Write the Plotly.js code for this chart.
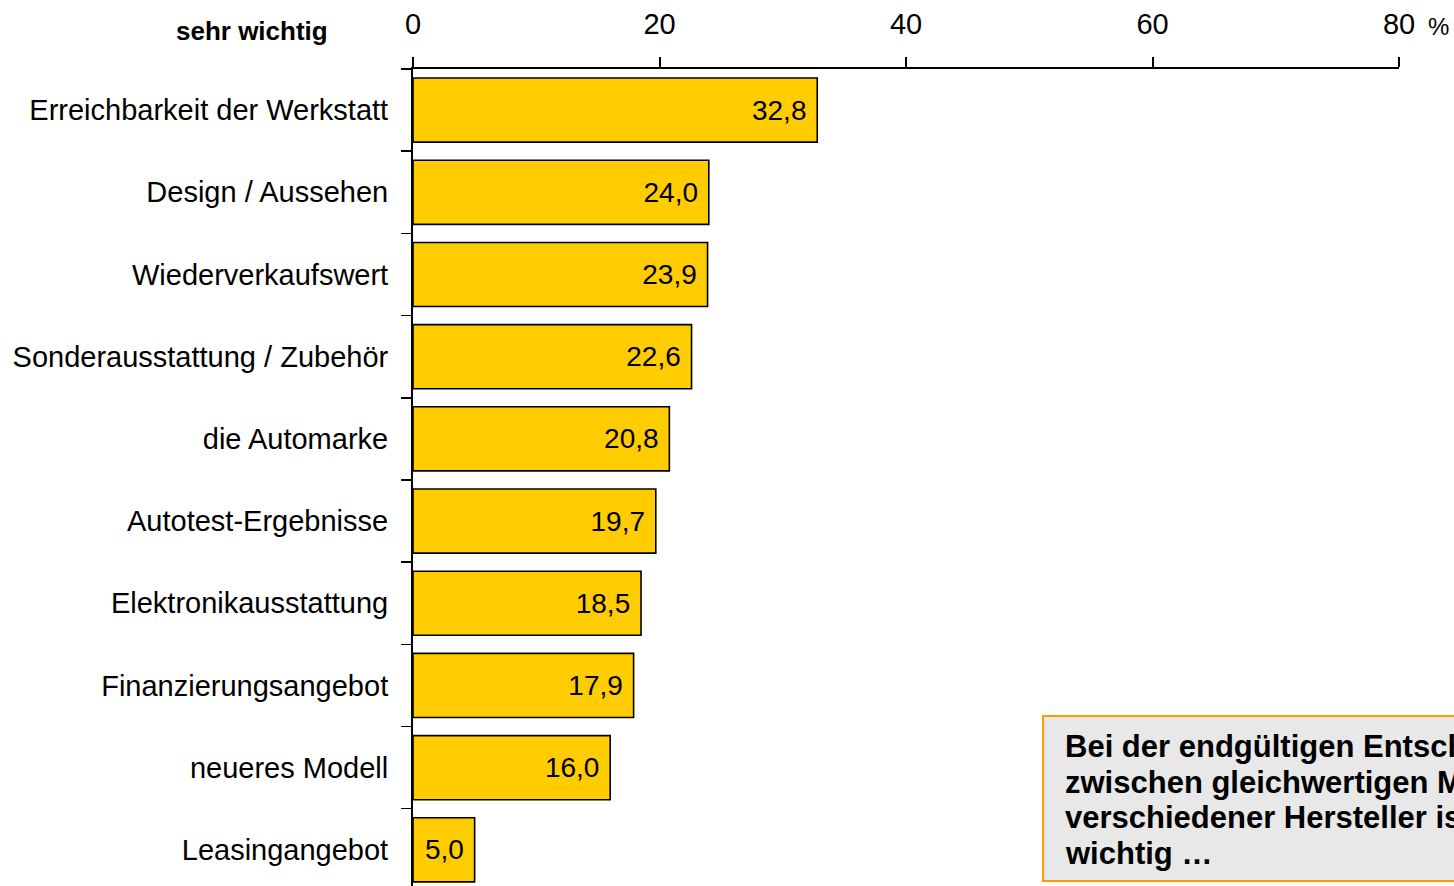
<!DOCTYPE html>
<html>
<head>
<meta charset="utf-8">
<script src="https://cdn.plot.ly/plotly-3.0.1.min.js"></script>
<style>
html,body{margin:0;padding:0;overflow:hidden;background:#fff;}
#chart{width:1454px;height:886px;}
</style>
</head>
<body>
<div id="chart"></div>
<script>
const categories = [
  "Erreichbarkeit der Werkstatt",
  "Design / Aussehen",
  "Wiederverkaufswert",
  "Sonderausstattung / Zubehör",
  "die Automarke",
  "Autotest-Ergebnisse",
  "Elektronikausstattung",
  "Finanzierungsangebot",
  "neueres Modell",
  "Leasingangebot"
];
const values = [32.8, 24.0, 23.9, 22.6, 20.8, 19.7, 18.5, 17.9, 16.0, 5.0];
const tickVals = [0, 20, 40, 60, 80];
const tickLabels = ["0", "20", "40", "60", "80"];
const groupLabel = "sehr wichtig";
const unitLabel = "%";
const noteLines = [
  "Bei der endgültigen Entscheidung",
  "zwischen gleichwertigen Modellen",
  "verschiedener Hersteller ist mir sehr",
  "wichtig …"
];

const FONT = '"Liberation Sans", Arial, sans-serif';

const trace = {
  type: 'bar',
  orientation: 'h',
  y: categories,
  x: values,
  marker: {color: '#FFCC00', line: {color: '#000000', width: 1.6}},
  texttemplate: '%{x:.1f}\u00a0',
  textposition: 'inside',
  insidetextanchor: 'end',
  textfont: {family: FONT, size: 28, color: '#000000'},
  constraintext: 'none',
  hoverinfo: 'none',
  cliponaxis: false
};

// pixel -> paper helpers (plot area: x 413..1399, y 69..886)
const px = v => (v - 413) / 986;
const py = v => (886 - v) / 817;

const noteAnnotations = noteLines.map((t, i) => ({
  xref: 'paper', yref: 'paper',
  x: px(1063), y: py([746, 782, 817, 853][i]),
  xanchor: 'left', yanchor: 'middle',
  align: 'left',
  text: '<b>' + t + '</b>',
  showarrow: false,
  font: {family: FONT, size: 31, color: '#000'}
}));

const layout = {
  width: 1454,
  height: 886,
  margin: {l: 413, r: 55, t: 69, b: 0, pad: 0},
  paper_bgcolor: '#ffffff',
  plot_bgcolor: '#ffffff',
  separators: ',.',
  showlegend: false,
  bargap: 0.22,
  font: {family: FONT, color: '#000000'},
  xaxis: {
    side: 'top',
    range: [0, 80],
    autorange: false,
    tickmode: 'array',
    tickvals: tickVals,
    ticktext: tickLabels,
    ticks: 'outside',
    ticklen: 10,
    tickwidth: 2,
    tickcolor: '#000',
    ticklabelstandoff: 11,
    showline: true,
    linecolor: '#000',
    linewidth: 2,
    showgrid: false,
    zeroline: false,
    tickfont: {family: FONT, size: 29, color: '#000'}
  },
  yaxis: {
    type: 'category',
    autorange: false,
    range: [9.44, -0.5],
    tickson: 'boundaries',
    ticks: 'outside',
    ticklen: 10,
    tickwidth: 1.5,
    tickcolor: '#000',
    ticklabelstandoff: 17,
    showline: true,
    linecolor: '#000',
    linewidth: 2,
    showgrid: false,
    zeroline: false,
    tickfont: {family: FONT, size: 29, color: '#000'}
  },
  shapes: [{
    type: 'rect',
    xref: 'paper', yref: 'paper',
    x0: px(1043), x1: 1.2,
    y0: py(881), y1: py(716),
    fillcolor: '#E8E8E8',
    line: {color: '#FF9900', width: 2},
    layer: 'above'
  }],
  annotations: [
    {
      xref: 'paper', yref: 'paper',
      x: px(330), y: py(31),
      xanchor: 'right', yanchor: 'middle',
      text: '<b>' + groupLabel + '</b>',
      showarrow: false,
      font: {family: FONT, size: 26, color: '#000'}
    },
    {
      xref: 'paper', yref: 'paper',
      x: px(1426), y: py(26),
      xanchor: 'left', yanchor: 'middle',
      text: unitLabel,
      showarrow: false,
      font: {family: FONT, size: 24, color: '#000'}
    }
  ].concat(noteAnnotations)
};

Plotly.newPlot('chart', [trace], layout, {displayModeBar: false, staticPlot: true});
</script>
</body>
</html>
